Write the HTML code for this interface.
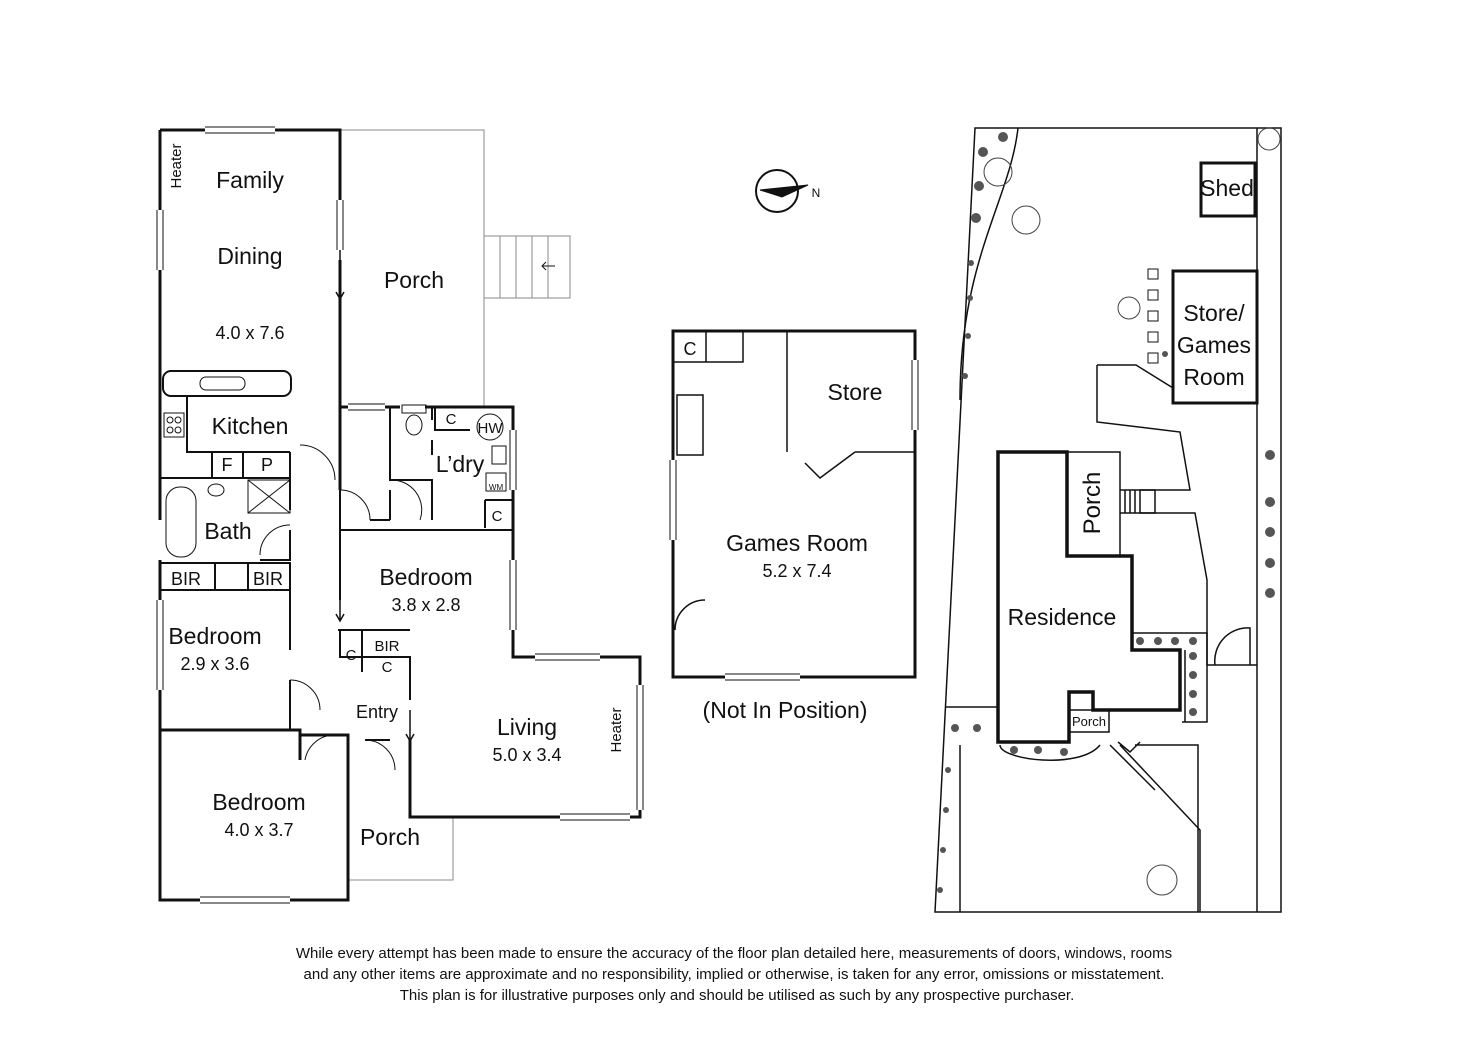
<!DOCTYPE html>
<html><head><meta charset="utf-8"><style>
html,body{margin:0;padding:0;background:#fff;}
svg{display:block;}
text{font-family:"Liberation Sans",sans-serif;fill:#111;}
</style></head><body>
<svg width="1472" height="1040" viewBox="0 0 1472 1040" xmlns="http://www.w3.org/2000/svg">
<rect width="1472" height="1040" fill="#fff"/>
<g fill="none" stroke="#111">
<g stroke="#888" stroke-width="1">
<path d="M340 130 H484 V407"/>
<rect x="484" y="236" width="86" height="62"/>
<path d="M500 236V298M516 236V298M532 236V298M548 236V298"/>
<path d="M348 817 V880 H453 V817"/>
</g>
<path d="M555 266 H542 M546 262 L542 266 L546 270" stroke-width="1"/>
<g stroke-width="3">
<path d="M160 130 H340 V200 M340 260 V300"/>
<path d="M160 130 V210 M160 270 V520 M160 560 V600 M160 690 V900 H348 V735 H300"/>
<path d="M340 300 V407 H348 M385 407 H400 M425 407 H513 V657 H640 V817 H410 V740"/>
<path d="M160 730 H300 V760"/>
<path d="M340 360 V490"/>
</g>
<!-- windows: white gap + double thin lines -->
<g stroke="#fff" stroke-width="5">
<path d="M205 130 H275 M340 200 V250 M160 210 V270 M160 600 V690 M200 900 H290 M513 430 V490 M513 560 V630 M535 657 H600 M640 685 V810 M560 817 H630 M673 460 V540 M915 360 V430 M725 677 H800 M348 407 H385"/>
</g>
<g stroke-width="1">
<path d="M205 127 H275 M205 133 H275"/>
<path d="M337 200 V250 M343 200 V250"/>
<path d="M157 210 V270 M163 210 V270"/>
<path d="M157 600 V690 M163 600 V690"/>
<path d="M200 897 H290 M200 903 H290"/>
<path d="M348 404 H385 M348 410 H385"/>
<path d="M510 430 V490 M516 430 V490"/>
<path d="M510 560 V630 M516 560 V630"/>
<path d="M535 654 H600 M535 660 H600"/>
<path d="M637 685 V810 M643 685 V810"/>
<path d="M560 814 H630 M560 820 H630"/>
<path d="M670 460 V540 M676 460 V540"/>
<path d="M912 360 V430 M918 360 V430"/>
<path d="M725 674 H800 M725 680 H800"/>
</g>
<g stroke-width="2">
<rect x="163" y="371" width="128" height="25" rx="8"/>
<path d="M187 396 V452 H212 V478 M212 452 H290 M243 452 V478 M290 452 V478"/>
<path d="M160 478 H290 V510 M290 530 V560 H260"/>
<path d="M160 563 H290 V650 M290 680 V730"/>
<path d="M160 590 H290 M215 563 V590 M248 563 V590"/>
<path d="M340 490 V530 H513 M340 530 V600 M340 630 V657 H410 V700"/>
<path d="M338 630 H410 M362 630 V672 M362 657 H410"/>
<path d="M390 407 V480 H432 V520 M432 407 V420 M432 440 V455"/>
<path d="M435 407 V430 H470 M485 500 H513 V528 M485 500 V528"/>
<path d="M370 520 H390 M390 490 V520"/>
<path d="M348 735 V760 M365 740 H390"/>
</g>
<g stroke-width="1">
<path d="M300 445 A35 35 0 0 1 335 480"/>
<path d="M340 490 A30 30 0 0 1 370 520"/>
<path d="M390 480 A30 30 0 0 1 420 520"/>
<path d="M260 555 A30 30 0 0 1 290 525"/>
<path d="M290 680 A30 30 0 0 1 320 710"/>
<path d="M305 760 A30 30 0 0 1 335 735"/>
<path d="M365 740 A30 30 0 0 1 395 770"/>
<rect x="200" y="377" width="45" height="13" rx="6"/>
<rect x="164" y="413" width="20" height="24"/>
<circle cx="170" cy="420" r="3"/><circle cx="178" cy="420" r="3"/><circle cx="170" cy="430" r="3"/><circle cx="178" cy="430" r="3"/>
<rect x="166" y="487" width="30" height="70" rx="14"/>
<ellipse cx="216" cy="490" rx="8" ry="6"/>
<rect x="248" y="480" width="42" height="33"/><path d="M248 480 L290 513 M290 480 L248 513"/>
<ellipse cx="414" cy="425" rx="8" ry="10"/><rect x="402" y="405" width="24" height="8"/>
<circle cx="490" cy="427" r="13"/>
<rect x="492" y="446" width="14" height="18"/><rect x="486" y="473" width="20" height="18"/>
</g>
<path d="M340 250 V298 M336 292 L340 299 L344 292 M340 595 V620 M336 614 L340 621 L344 614 M410 710 V740 M406 734 L410 741 L414 734" stroke-width="1.5"/>
<rect x="673" y="331" width="242" height="346" stroke-width="3"/>
<g stroke="#fff" stroke-width="5"><path d="M673 460 V540 M915 360 V430 M725 677 H800"/></g>
<g stroke-width="1"><path d="M670 460 V540 M676 460 V540 M912 360 V430 M918 360 V430 M725 674 H800 M725 680 H800"/></g>
<g stroke-width="1.5">
<path d="M787 331 V452 M855 452 H915 M855 452 L820 478 L805 463"/>
<path d="M673 362 H743 V331 M706 331 V362"/>
<rect x="677" y="395" width="26" height="60"/>
<path d="M673 600 V630 M675 630 A30 30 0 0 1 705 600"/>
</g>
<circle cx="777" cy="191" r="21" stroke-width="2"/>
<path d="M760 190 L808 185 L782 197 Z" fill="#111"/>
<g stroke-width="1.5">
<path d="M975 128 H1281 V912 H935 Z"/>
<path d="M1257 128 V912 M1018 128 C1010 200 960 260 960 400"/>
<rect x="1201" y="163" width="54" height="53" stroke-width="3"/>
<rect x="1173" y="271" width="84" height="132" stroke-width="3"/>
<path d="M1097 365 H1136 L1173 388 M1097 365 V422 L1180 432 L1190 490 H1140 M1140 513 H1195 L1207 580 V665 H1257"/>
<path d="M1067 452 H1120 V556"/>
<path d="M1120 490 H1155 V513 H1120 M1125 490V513 M1130 490V513 M1135 490V513 M1140 490V513"/>
<path d="M1132 633 H1207 V722 H1182 M1185 650 V722"/>
<path d="M1215 665 A33 33 0 0 1 1250 628 V665"/>
<path d="M1069 710 H1109 V732 H1069"/>
<path d="M945 707 H998 M960 745 V912 M1000 745 C1000 760 1080 770 1100 745 M1110 745 L1155 790 M1120 745 L1200 830 V912 M1135 745 H1198 V912 M1118 742 L1130 752 L1140 742"/>
<path d="M998 452 H1067 V556 H1132 V650 H1180 V710 H1093 V692 H1069 V742 H998 Z" stroke-width="3.5"/>
</g>
<g stroke-width="1">
<rect x="1148" y="269" width="10" height="10"/><rect x="1148" y="290" width="10" height="10"/><rect x="1148" y="311" width="10" height="10"/><rect x="1148" y="332" width="10" height="10"/><rect x="1148" y="353" width="10" height="10"/>
</g>
<g stroke-width="1" stroke="#444">
<circle cx="998" cy="172" r="14"/><circle cx="1026" cy="220" r="14"/><circle cx="1129" cy="308" r="11"/><circle cx="1269" cy="139" r="11"/><circle cx="1162" cy="880" r="15"/>
</g>
<g fill="#555" stroke="none">
<circle cx="1003" cy="137" r="5"/><circle cx="983" cy="152" r="5"/><circle cx="979" cy="186" r="5"/><circle cx="976" cy="218" r="5"/>
<circle cx="971" cy="263" r="3"/><circle cx="970" cy="298" r="3"/><circle cx="968" cy="336" r="3"/><circle cx="965" cy="376" r="3"/>
<circle cx="1270" cy="455" r="5"/><circle cx="1270" cy="502" r="5"/><circle cx="1270" cy="532" r="5"/><circle cx="1270" cy="563" r="5"/><circle cx="1270" cy="593" r="5"/>
<circle cx="1140" cy="641" r="4"/><circle cx="1158" cy="641" r="4"/><circle cx="1175" cy="641" r="4"/><circle cx="1193" cy="641" r="4"/><circle cx="1193" cy="656" r="4"/>
<circle cx="1193" cy="675" r="4"/><circle cx="1193" cy="694" r="4"/><circle cx="1193" cy="712" r="4"/>
<circle cx="955" cy="728" r="4"/><circle cx="977" cy="728" r="4"/><circle cx="1014" cy="750" r="4"/><circle cx="1038" cy="750" r="4"/><circle cx="1064" cy="752" r="4"/>
<circle cx="948" cy="770" r="3"/><circle cx="946" cy="810" r="3"/><circle cx="943" cy="850" r="3"/><circle cx="940" cy="890" r="3"/><circle cx="1165" cy="354" r="3"/>
</g>
</g>
<g font-size="23" text-anchor="middle">
<text x="250" y="188">Family</text>
<text x="250" y="264">Dining</text>
<text x="414" y="288">Porch</text>
<text x="250" y="434">Kitchen</text>
<text x="228" y="539">Bath</text>
<text x="426" y="585">Bedroom</text>
<text x="215" y="644">Bedroom</text>
<text x="527" y="735">Living</text>
<text x="259" y="810">Bedroom</text>
<text x="390" y="845">Porch</text>
<text x="855" y="400">Store</text>
<text x="797" y="551">Games Room</text>
<text x="785" y="718">(Not In Position)</text>
<text x="1227" y="196">Shed</text>
<text x="1214" y="321">Store/</text>
<text x="1214" y="353">Games</text>
<text x="1214" y="385">Room</text>
<text x="1062" y="625">Residence</text>
</g>
<text x="460" y="472" font-size="23" text-anchor="middle">L’dry</text>
<g font-size="18" text-anchor="middle">
<text x="250" y="339">4.0 x 7.6</text>
<text x="426" y="611">3.8 x 2.8</text>
<text x="215" y="670">2.9 x 3.6</text>
<text x="527" y="761">5.0 x 3.4</text>
<text x="259" y="836">4.0 x 3.7</text>
<text x="797" y="577">5.2 x 7.4</text>
<text x="377" y="718">Entry</text>
<text x="186" y="585">BIR</text><text x="268" y="585">BIR</text>
<text x="227" y="471">F</text><text x="267" y="471">P</text>
<text x="690" y="355">C</text>
</g>
<g font-size="15" text-anchor="middle">
<text x="451" y="424">C</text><text x="497" y="521">C</text>
<text x="351" y="660">C</text><text x="387" y="651">BIR</text><text x="387" y="672">C</text>
<text x="490" y="433">HW</text>
<text x="816" y="197" font-size="12">N</text>
<text x="1089" y="726" font-size="13">Porch</text>
</g>
<text x="496" y="490" font-size="8" text-anchor="middle">WM</text>
<text font-size="15" text-anchor="middle" transform="translate(181 166) rotate(-90)">Heater</text>
<text font-size="15" text-anchor="middle" transform="translate(621 730) rotate(-90)">Heater</text>
<text font-size="24" text-anchor="middle" transform="translate(1100 503) rotate(-90)">Porch</text>
<g font-size="15" text-anchor="middle">
<text x="734" y="958">While every attempt has been made to ensure the accuracy of the floor plan detailed here, measurements of doors, windows, rooms</text>
<text x="734" y="979">and any other items are approximate and no responsibility, implied or otherwise, is taken for any error, omissions or misstatement.</text>
<text x="737" y="1000">This plan is for illustrative purposes only and should be utilised as such by any prospective purchaser.</text>
</g>
</svg>
</body></html>
